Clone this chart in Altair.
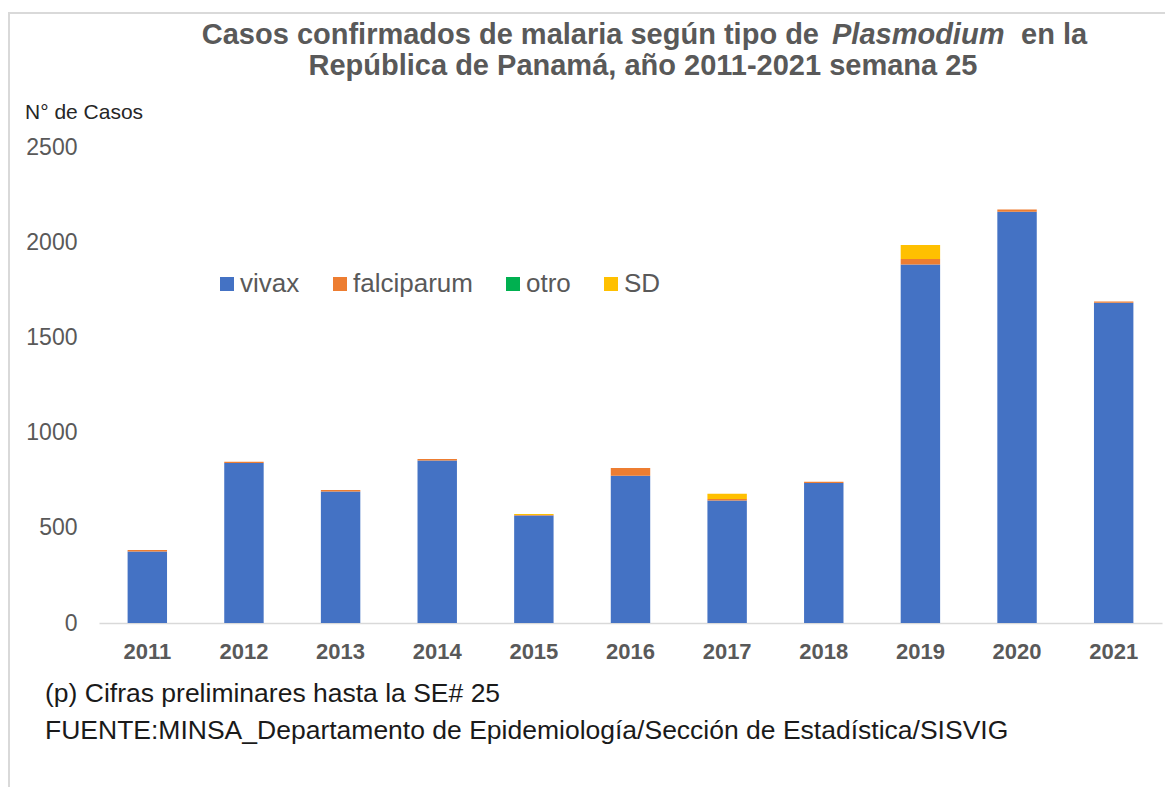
import altair as alt
import pandas as pd

years = ["2011", "2012", "2013", "2014", "2015", "2016", "2017", "2018", "2019", "2020", "2021"]
vivax = [376, 840, 691, 854, 565, 774, 644, 735, 1883, 2160, 1682]
falciparum = [7, 7, 8, 8, 2, 40, 7, 7, 29, 12, 7]
otro = [0, 0, 0, 0, 0, 0, 0, 0, 0, 0, 0]
sd = [0, 0, 0, 0, 5, 0, 28, 0, 73, 0, 0]

series_names = ["vivax", "falciparum", "otro", "SD"]
series_values = [vivax, falciparum, otro, sd]
series_colors = ["#4472C4", "#ED7D31", "#00B050", "#FFC000"]

rows = []
for si, (name, vals) in enumerate(zip(series_names, series_values)):
    for y, v in zip(years, vals):
        rows.append({"year": y, "tipo": name, "casos": v, "idx": si})
df = pd.DataFrame(rows)

FONT = "Liberation Sans"
GRAY = "#595959"

bars = alt.Chart(df).mark_bar().encode(
    x=alt.X("year:N", sort=years,
            scale=alt.Scale(paddingInner=0.592, paddingOuter=0.296),
            axis=alt.Axis(title=None, labelAngle=0, ticks=False, tickSize=0,
                          labelFontSize=22, labelFontWeight="bold", labelColor=GRAY,
                          labelFont=FONT, labelPadding=18,
                          domainColor="#D9D9D9", domainWidth=1.5, grid=False)),
    y=alt.Y("casos:Q", stack="zero",
            scale=alt.Scale(domain=[0, 2500], nice=False),
            axis=alt.Axis(title=None, values=[0, 500, 1000, 1500, 2000, 2500],
                          format="d",
                          ticks=False, tickSize=0, domain=False, grid=False,
                          labelFontSize=23, labelColor=GRAY, labelFont=FONT,
                          labelPadding=22)),
    color=alt.Color("tipo:N",
                    scale=alt.Scale(domain=series_names, range=series_colors),
                    legend=alt.Legend(title=None, orient="none", direction="horizontal",
                                      legendX=115, legendY=124,
                                      symbolType="square", symbolSize=196,
                                      symbolStrokeWidth=0, labelFontSize=26,
                                      labelColor=GRAY, labelFont=FONT,
                                      columnPadding=27, labelOffset=0, padding=0)),
    order=alt.Order("idx:Q", sort="ascending"),
)

one = alt.Data(values=[{"k": 1}])

def txt(s, x, y, size, color, align="left", weight="normal", style="normal"):
    return alt.Chart(one).mark_text(
        text=s, align=align, baseline="alphabetic", fontSize=size, font=FONT,
        fontWeight=weight, fontStyle=style, color=color
    ).encode(x=alt.value(x), y=alt.value(y))

title_parts = [
    txt("Casos confirmados de malaria según tipo de", 720, -103, 29, GRAY, "right", "bold"),
    txt("Plasmodium", 733, -103, 29, GRAY, "left", "bold", "italic"),
    txt("en la", 922, -103, 29, GRAY, "left", "bold"),
    txt("República de Panamá, año 2011-2021 semana 25", 544, -72, 29, GRAY, "center", "bold"),
    txt("N° de Casos", -74, -28, 21, "#262626"),
    txt("(p) Cifras preliminares hasta la SE# 25", -54, 555, 26.5, "#1a1a1a"),
    txt("FUENTE:MINSA_Departamento  de Epidemiología/Sección de Estadística/SISVIG", -54, 592, 26.5, "#1a1a1a"),
]

frame_top = alt.Chart(one).mark_rule(color="#D9D9D9", strokeWidth=2).encode(
    x=alt.value(-91), x2=alt.value(1070), y=alt.value(-134))
frame_left = alt.Chart(one).mark_rule(color="#D9D9D9", strokeWidth=2).encode(
    x=alt.value(-90), y=alt.value(-134), y2=alt.value(640))

chart = alt.layer(bars, frame_top, frame_left, *title_parts).properties(
    width=1063, height=476,
    padding={"left": 91, "top": 139, "right": 3, "bottom": 164},
    autosize="none",
    background="white",
).configure_view(stroke=None, strokeWidth=0)

chart.save("out.html", embed_options={"renderer": "svg", "actions": False})
